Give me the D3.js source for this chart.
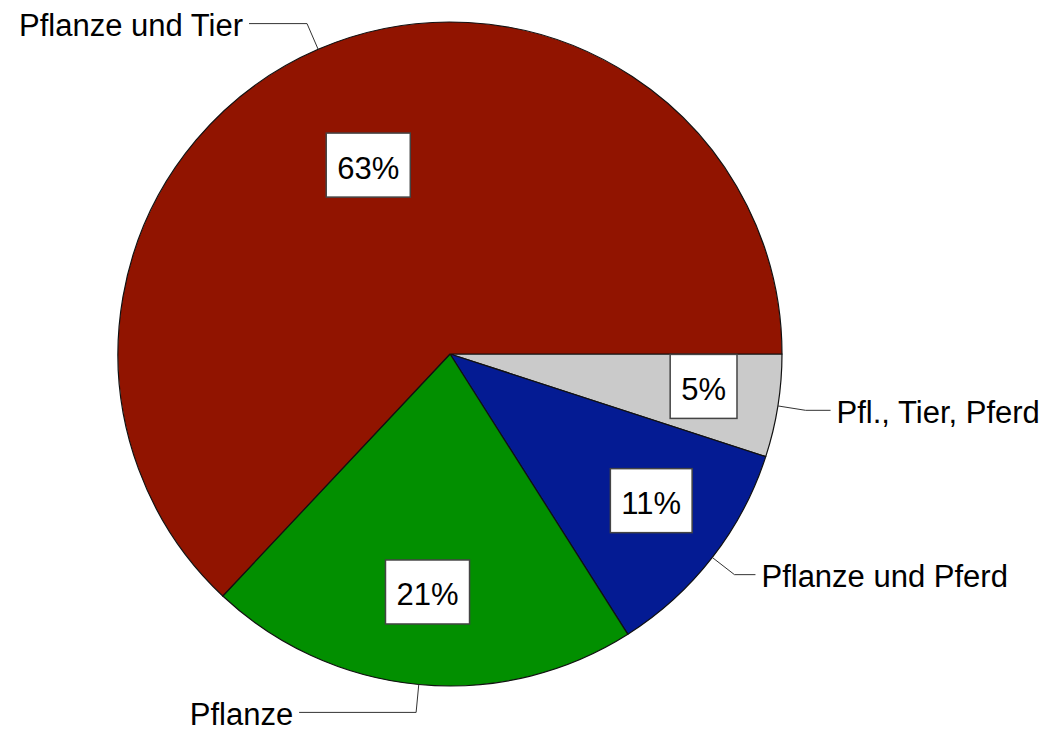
<!DOCTYPE html>
<html>
<head>
<meta charset="utf-8"/>
<script src="https://d3js.org/d3.v7.min.js"></script>
<style>
  body { margin: 0; background: #fff; }
  text { font-family: "Liberation Sans", Arial, sans-serif; }
</style>
</head>
<body>
<svg id="svg" width="1048" height="734"></svg>
<script>
// data, clockwise from 3 o'clock
var categories = ["Pfl., Tier, Pferd", "Pflanze und Pferd", "Pflanze", "Pflanze und Tier"];
var values = [5, 11, 21, 63];
var pctLabels = ["5%", "11%", "21%", "63%"];

// layout / style
var colors = ["#cacaca", "#041b93", "#028f00", "#911400"];
var labelRadius = [0.77, 0.75, 0.72, 0.62];   // fraction of radius for the % boxes
var labelTurn = [-0.03, -0.03, 0, 0];          // small angle nudge (rad) for the % boxes
var leaderRun = [25, 21, 117, 58];            // horizontal part of leader lines

var svg = d3.select("#svg");
var cx = 450, cy = 354, R = 332;
var g = svg.append("g").attr("transform", "translate(" + cx + "," + cy + ")");

var pie = d3.pie().sort(null)
    .startAngle(Math.PI / 2)
    .endAngle(Math.PI / 2 + 2 * Math.PI);

var arcs = pie(values);
var arc = d3.arc().innerRadius(0).outerRadius(R);
var edgeArc = d3.arc().innerRadius(R).outerRadius(R);
var elbowArc = d3.arc().innerRadius(R + 28).outerRadius(R + 28);

g.selectAll("path.slice")
  .data(arcs)
  .enter().append("path")
    .attr("class", "slice")
    .attr("d", arc)
    .attr("fill", function(d, i) { return colors[i]; })
    .attr("stroke", "#111")
    .attr("stroke-width", 1.2)
    .attr("stroke-linejoin", "round");

// leader lines + outer labels
arcs.forEach(function(d, i) {
  var p0 = edgeArc.centroid(d);
  var p1 = elbowArc.centroid(d);
  var dir = p1[0] < 0 ? -1 : 1;
  var p2 = [p1[0] + dir * leaderRun[i], p1[1]];
  g.append("polyline")
    .attr("points", [p0, p1, p2].map(function(p) { return p.join(","); }).join(" "))
    .attr("fill", "none")
    .attr("stroke", "#333")
    .attr("stroke-width", 1);
  g.append("text")
    .attr("x", p2[0] + dir * 6)
    .attr("y", p2[1] + 2)
    .attr("text-anchor", dir < 0 ? "end" : "start")
    .attr("dominant-baseline", "central")
    .style("font-size", "31px")
    .style("fill", "#000")
    .text(categories[i]);
});

// percentage boxes
arcs.forEach(function(d, i) {
  var lr = R * labelRadius[i];
  var a = (d.startAngle + d.endAngle) / 2 + labelTurn[i];
  var c = [lr * Math.sin(a), -lr * Math.cos(a)];
  var lg = g.append("g").attr("transform", "translate(" + c[0] + "," + c[1] + ")");
  var t = lg.append("text")
    .attr("text-anchor", "middle")
    .attr("dominant-baseline", "central")
    .attr("y", 3)
    .style("font-size", "31px")
    .style("fill", "#000")
    .text(pctLabels[i]);
  var w = t.node().getComputedTextLength() + 22;
  lg.insert("rect", "text")
    .attr("x", -w / 2)
    .attr("y", -32)
    .attr("width", w)
    .attr("height", 64)
    .attr("fill", "#fff")
    .attr("stroke", "#444")
    .attr("stroke-width", 1.5);
});
</script>
</body>
</html>
